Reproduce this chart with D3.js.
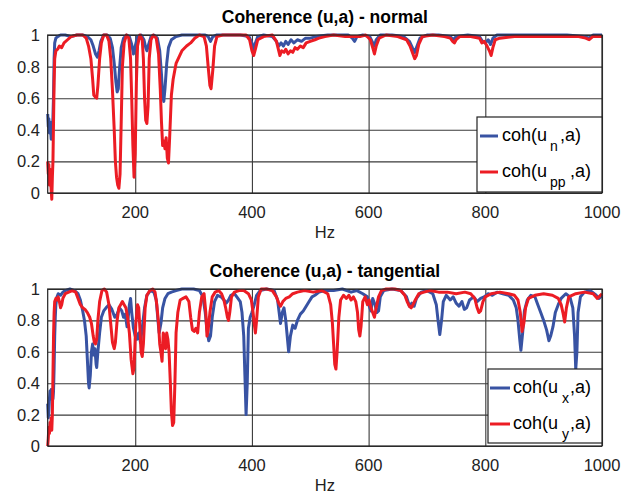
<!DOCTYPE html>
<html>
<head>
<meta charset="utf-8">
<script src="https://cdn.jsdelivr.net/npm/d3@7"></script>
<style>
  body { margin: 0; background: #fff; }
  svg { display: block; font-family: "Liberation Sans", Arial, sans-serif; }
</style>
</head>
<body>
<div id="chart"></div>
<script>
// Data: [Hz, coherence]
const normalUn = [[50,0.5],[51,0.42],[52,0.47],[53,0.38],[54,0.45],[55,0.4],[56,0.34],[57,0.44],[58,0.4],[59,0.48],[60,0.62],[61,0.85],[62,0.95],[64,0.98],[67,0.99],[72,1.0],[80,1.0],[90,0.99],[100,1.0],[110,1.0],[118,0.99],[124,0.97],[128,0.93],[132,0.88],[135,0.86],[138,0.9],[141,0.96],[146,1.0],[152,1.0],[157,0.98],[161,0.92],[164,0.82],[167,0.7],[169,0.64],[171,0.66],[173,0.78],[176,0.92],[180,0.98],[185,1.0],[190,0.99],[194,0.94],[197,0.88],[200,0.93],[204,0.99],[210,1.0],[215,0.97],[218,0.92],[220,0.9],[223,0.94],[227,0.99],[232,1.0],[238,0.98],[242,0.9],[245,0.75],[247,0.62],[249,0.58],[251,0.66],[254,0.82],[257,0.92],[262,0.97],[270,0.99],[280,1.0],[300,1.0],[320,1.0],[325,0.99],[329,0.96],[333,0.99],[340,1.0],[360,1.0],[380,1.0],[395,0.99],[400,0.95],[403,0.9],[406,0.95],[410,0.99],[420,1.0],[435,0.99],[442,0.96],[446,0.93],[450,0.95],[454,0.93],[458,0.96],[462,0.94],[467,0.97],[472,0.95],[478,0.97],[485,0.96],[492,0.98],[500,0.98],[510,0.99],[530,1.0],[550,1.0],[565,1.0],[572,0.98],[576,0.96],[580,0.99],[590,1.0],[602,0.99],[606,0.96],[610,0.93],[613,0.97],[620,1.0],[640,1.0],[660,0.99],[670,0.96],[675,0.92],[679,0.89],[683,0.93],[688,0.98],[700,1.0],[720,1.0],[740,0.99],[745,0.97],[750,0.99],[770,1.0],[790,0.99],[795,0.96],[800,0.95],[805,0.97],[809,0.94],[813,0.98],[820,1.0],[850,1.0],[880,1.0],[910,1.0],[940,1.0],[970,0.99],[978,0.98],[985,1.0],[1000,1.0]];

const normalUpp = [[50,0.2],[51,0.12],[52,0.18],[53,0.05],[54,0.15],[55,0.08],[56,0.02],[57,-0.04],[58,0.1],[59,0.2],[60,0.45],[61,0.7],[62,0.85],[64,0.9],[67,0.91],[70,0.93],[74,0.92],[78,0.95],[84,0.97],[90,0.99],[100,1.0],[110,1.0],[116,0.98],[120,0.93],[124,0.85],[127,0.72],[129,0.62],[131,0.61],[134,0.6],[136,0.68],[139,0.85],[142,0.95],[146,1.0],[151,1.0],[155,0.96],[158,0.85],[161,0.65],[164,0.4],[166,0.2],[168,0.1],[170,0.05],[172,0.03],[174,0.12],[176,0.45],[178,0.8],[181,0.95],[185,1.0],[189,0.98],[192,0.85],[194,0.6],[196,0.3],[198,0.1],[200,0.25],[202,0.7],[204,0.93],[208,1.0],[212,0.97],[214,0.85],[216,0.6],[218,0.46],[220,0.44],[222,0.55],[224,0.85],[227,0.97],[231,1.0],[236,0.98],[240,0.88],[243,0.65],[245,0.45],[247,0.3],[249,0.33],[251,0.28],[253,0.35],[255,0.22],[257,0.19],[259,0.35],[262,0.62],[265,0.72],[270,0.82],[275,0.86],[280,0.9],[288,0.93],[295,0.95],[302,0.98],[310,1.0],[318,0.99],[322,0.93],[325,0.8],[328,0.68],[330,0.66],[333,0.78],[336,0.93],[340,0.99],[350,1.0],[370,1.0],[390,1.0],[396,0.97],[400,0.9],[403,0.87],[406,0.91],[410,0.97],[420,0.99],[435,1.0],[442,0.96],[446,0.9],[448,0.87],[451,0.9],[455,0.89],[458,0.91],[462,0.88],[466,0.9],[470,0.89],[474,0.92],[478,0.91],[483,0.93],[488,0.92],[493,0.95],[500,0.96],[508,0.97],[515,0.98],[525,0.99],[540,1.0],[560,0.99],[575,0.99],[585,0.99],[595,1.0],[603,0.97],[607,0.92],[610,0.88],[613,0.93],[618,0.98],[630,1.0],[650,0.99],[665,0.97],[671,0.93],[676,0.88],[679,0.85],[682,0.87],[686,0.94],[692,0.99],[710,1.0],[730,0.99],[740,0.98],[744,0.96],[747,0.95],[750,0.97],[756,0.99],[775,0.99],[790,0.98],[794,0.95],[798,0.96],[803,0.93],[807,0.9],[810,0.87],[813,0.92],[817,0.97],[825,0.98],[850,0.99],[880,0.99],[910,0.99],[940,0.99],[960,0.99],[972,0.98],[978,0.97],[984,0.99],[1000,0.99]];

const tangUx = [[50,0.27],[51,0.18],[52,0.22],[53,0.3],[54,0.35],[55,0.33],[56,0.36],[57,0.3],[58,0.34],[59,0.3],[60,0.35],[61,0.5],[62,0.7],[63,0.82],[64,0.9],[66,0.95],[68,0.97],[72,0.96],[76,0.98],[80,0.99],[88,1.0],[96,0.99],[102,0.97],[106,0.93],[110,0.86],[113,0.8],[116,0.7],[118,0.55],[120,0.4],[121,0.37],[123,0.45],[125,0.6],[127,0.65],[129,0.58],[131,0.62],[133,0.52],[134,0.5],[136,0.6],[139,0.72],[142,0.82],[146,0.86],[150,0.88],[155,0.9],[160,0.87],[165,0.82],[169,0.84],[173,0.88],[177,0.86],[180,0.82],[183,0.84],[186,0.76],[188,0.82],[190,0.9],[192,0.94],[194,0.85],[197,0.75],[200,0.7],[203,0.68],[206,0.72],[209,0.66],[212,0.75],[216,0.88],[220,0.96],[226,0.99],[232,0.98],[236,0.93],[239,0.8],[241,0.72],[244,0.78],[247,0.88],[251,0.94],[256,0.97],[262,0.98],[270,0.99],[280,1.0],[300,1.0],[310,0.99],[316,0.95],[320,0.85],[323,0.74],[326,0.67],[329,0.7],[332,0.82],[336,0.92],[341,0.96],[347,0.95],[352,0.93],[356,0.91],[360,0.93],[364,0.96],[370,0.97],[376,0.94],[380,0.92],[383,0.85],[386,0.7],[388,0.45],[390,0.2],[392,0.4],[394,0.75],[397,0.82],[400,0.85],[404,0.9],[408,0.96],[414,0.99],[425,1.0],[438,0.99],[444,0.93],[447,0.84],[449,0.78],[452,0.85],[455,0.88],[458,0.8],[461,0.68],[463,0.6],[466,0.7],[470,0.77],[474,0.75],[478,0.8],[483,0.84],[488,0.86],[493,0.89],[498,0.92],[503,0.95],[508,0.96],[515,0.98],[525,0.99],[540,0.99],[555,1.0],[570,0.98],[580,0.99],[590,0.97],[598,0.95],[602,0.88],[604,0.86],[607,0.94],[611,0.9],[614,0.85],[617,0.86],[620,0.95],[626,0.99],[640,1.0],[655,0.99],[665,0.95],[670,0.89],[674,0.91],[678,0.89],[682,0.94],[690,0.98],[700,0.99],[710,0.97],[716,0.9],[719,0.8],[722,0.71],[725,0.8],[728,0.92],[733,0.96],[740,0.93],[745,0.95],[750,0.91],[755,0.89],[760,0.92],[764,0.87],[768,0.88],[773,0.93],[780,0.95],[786,0.92],[792,0.94],[798,0.95],[805,0.97],[812,0.96],[820,0.98],[830,0.97],[840,0.96],[848,0.93],[853,0.88],[856,0.8],[859,0.68],[861,0.61],[864,0.72],[867,0.86],[872,0.93],[878,0.96],[885,0.95],[890,0.9],[895,0.85],[900,0.8],[905,0.74],[909,0.67],[912,0.7],[916,0.76],[920,0.85],[925,0.9],[930,0.94],[938,0.97],[945,0.95],[950,0.88],[953,0.7],[955,0.49],[957,0.6],[959,0.85],[963,0.95],[970,0.98],[980,0.99],[990,0.96],[995,0.94],[1000,0.96]];

const tangUy = [[50,0.0],[51,0.05],[52,0.12],[53,0.08],[54,0.15],[55,0.1],[56,0.18],[57,0.1],[58,0.2],[59,0.45],[60,0.7],[61,0.85],[62,0.92],[64,0.94],[66,0.93],[68,0.95],[70,0.92],[72,0.88],[74,0.9],[76,0.94],[80,0.97],[86,0.98],[92,0.99],[98,0.98],[102,0.94],[106,0.9],[110,0.88],[114,0.87],[118,0.85],[122,0.82],[125,0.78],[128,0.7],[130,0.66],[132,0.65],[134,0.68],[136,0.8],[139,0.92],[143,0.99],[147,1.0],[151,0.98],[155,0.9],[158,0.78],[161,0.66],[164,0.62],[166,0.66],[169,0.8],[172,0.88],[175,0.9],[178,0.92],[181,0.9],[184,0.88],[187,0.82],[190,0.72],[193,0.55],[196,0.46],[198,0.5],[201,0.78],[204,0.9],[206,0.88],[208,0.75],[210,0.6],[212,0.57],[214,0.65],[217,0.88],[220,0.96],[225,0.99],[230,1.0],[234,0.98],[237,0.9],[240,0.78],[242,0.65],[244,0.6],[246,0.54],[248,0.72],[250,0.7],[252,0.62],[254,0.72],[256,0.68],[258,0.6],[260,0.42],[262,0.22],[264,0.13],[266,0.15],[268,0.4],[270,0.72],[273,0.85],[277,0.93],[282,0.94],[287,0.95],[292,0.92],[295,0.82],[298,0.74],[301,0.73],[304,0.75],[307,0.72],[310,0.85],[314,0.95],[318,0.97],[321,0.85],[323,0.7],[325,0.74],[328,0.85],[332,0.95],[337,0.98],[343,0.99],[348,0.97],[352,0.93],[355,0.88],[358,0.82],[360,0.8],[362,0.85],[365,0.95],[370,0.98],[378,0.99],[386,0.99],[394,0.97],[399,0.93],[402,0.85],[404,0.78],[406,0.72],[408,0.8],[411,0.95],[416,1.0],[425,1.0],[435,0.99],[442,0.95],[446,0.91],[449,0.89],[453,0.92],[458,0.94],[464,0.95],[470,0.97],[478,0.98],[490,0.99],[505,0.98],[520,0.99],[530,0.97],[535,0.9],[538,0.78],[540,0.65],[542,0.52],[544,0.49],[546,0.6],[549,0.82],[552,0.93],[557,0.96],[562,0.94],[566,0.96],[570,0.93],[574,0.95],[578,0.92],[581,0.85],[583,0.74],[585,0.7],[587,0.76],[590,0.92],[594,0.95],[598,0.9],[601,0.93],[604,0.88],[607,0.85],[610,0.82],[613,0.88],[617,0.95],[622,0.99],[630,1.0],[645,1.0],[655,0.99],[662,0.96],[666,0.92],[670,0.89],[673,0.88],[676,0.9],[680,0.93],[686,0.97],[695,0.98],[705,0.99],[720,0.98],[735,0.98],[750,0.97],[765,0.98],[775,0.97],[782,0.94],[786,0.88],[789,0.85],[792,0.86],[796,0.92],[800,0.95],[810,0.97],[825,0.98],[840,0.97],[850,0.96],[856,0.93],[860,0.85],[863,0.73],[866,0.78],[869,0.88],[874,0.94],[885,0.96],[900,0.97],[915,0.96],[925,0.94],[930,0.9],[933,0.85],[936,0.79],[939,0.88],[943,0.95],[955,0.97],[970,0.98],[985,0.97],[992,0.94],[1000,0.97]];

const xTicks = [200, 400, 600, 800, 1000];
const yTicks = [0, 0.2, 0.4, 0.6, 0.8, 1];
const yTickLabels = ['0', '0.2', '0.4', '0.6', '0.8', '1'];
const titles = ['Coherence (u,a) - normal', 'Coherence (u,a) - tangential'];
const legendSubs = [['n', 'pp'], ['x', 'y']];

// Constants
const WIDTH = 633;
const HEIGHT = 494;
const BLUE = '#3853a3';
const RED = '#ec1c24';

const panels = [
  { top: 35, bottom: 193, series: [normalUn, normalUpp], title: titles[0], subs: legendSubs[0],
    legend: { x: 477, y: 117, w: 125, h: 75, line: [480, 498], text: 502, sub: 550, rest: 560 } },
  { top: 289, bottom: 446, series: [tangUx, tangUy], title: titles[1], subs: legendSubs[1],
    legend: { x: 488, y: 369, w: 114, h: 74, line: [490, 510], text: 513, sub: 562, rest: 570 } }
];

const x = d3.scaleLinear().domain([50, 1000]).range([47.7, 602]);

const svg = d3.select('#chart')
  .append('svg')
  .attr('width', WIDTH)
  .attr('height', HEIGHT);

panels.forEach(p => {
  const y = d3.scaleLinear().domain([0, 1]).range([p.bottom, p.top]);
  const g = svg.append('g');

  // Grid
  g.append('g')
    .attr('transform', `translate(0,${p.bottom})`)
    .call(d3.axisBottom(x).tickValues(xTicks).tickSize(-(p.bottom - p.top)).tickFormat(''))
    .call(a => a.select('.domain').remove())
    .call(a => a.selectAll('line').attr('stroke', '#3a3a3a').attr('stroke-width', 1.1));
  g.append('g')
    .attr('transform', `translate(${x.range()[0]},0)`)
    .call(d3.axisLeft(y).tickValues(yTicks).tickSize(-(x.range()[1] - x.range()[0])).tickFormat(''))
    .call(a => a.select('.domain').remove())
    .call(a => a.selectAll('line').attr('stroke', '#3a3a3a').attr('stroke-width', 1.1));

  // Tick labels
  g.selectAll('.xlab')
    .data(xTicks)
    .join('text')
    .attr('x', d => x(d))
    .attr('y', p.bottom + 25)
    .attr('text-anchor', 'middle')
    .attr('font-size', 16.5)
    .attr('fill', '#222')
    .text(d => d);
  g.selectAll('.ylab')
    .data(yTicks)
    .join('text')
    .attr('x', 40)
    .attr('y', d => y(d))
    .attr('dy', '0.36em')
    .attr('text-anchor', 'end')
    .attr('font-size', 16.5)
    .attr('fill', '#222')
    .text((d, i) => yTickLabels[i]);

  // Curves
  const line = d3.line().x(d => x(d[0])).y(d => y(d[1]));
  g.selectAll('.curve')
    .data(p.series)
    .join('path')
    .attr('fill', 'none')
    .attr('stroke', (d, i) => i ? RED : BLUE)
    .attr('stroke-width', 3)
    .attr('stroke-linejoin', 'round')
    .attr('d', line);

  // Box
  g.append('rect')
    .attr('x', x.range()[0])
    .attr('y', p.top)
    .attr('width', x.range()[1] - x.range()[0])
    .attr('height', p.bottom - p.top)
    .attr('fill', 'none')
    .attr('stroke', '#222')
    .attr('stroke-width', 1.2);

  // Title and x label
  g.append('text')
    .attr('x', (x.range()[0] + x.range()[1]) / 2)
    .attr('y', p.top - 12)
    .attr('text-anchor', 'middle')
    .attr('font-size', 17.5)
    .attr('font-weight', 'bold')
    .text(p.title);
  g.append('text')
    .attr('x', (x.range()[0] + x.range()[1]) / 2)
    .attr('y', p.bottom + 45)
    .attr('text-anchor', 'middle')
    .attr('font-size', 16.5)
    .attr('fill', '#222')
    .text('Hz');

  // Legend
  const L = p.legend;
  const lg = g.append('g');
  lg.append('rect')
    .attr('x', L.x).attr('y', L.y).attr('width', L.w).attr('height', L.h)
    .attr('fill', '#fff').attr('stroke', '#222').attr('stroke-width', 1.2);
  const rows = [L.y + 19, L.y + 55];
  p.subs.forEach((s, i) => {
    const cy = rows[i];
    lg.append('line')
      .attr('x1', L.line[0]).attr('x2', L.line[1]).attr('y1', cy).attr('y2', cy)
      .attr('stroke', i ? RED : BLUE).attr('stroke-width', 3);
    lg.append('text').attr('x', L.text).attr('y', cy + 5).attr('font-size', 18).text('coh(u');
    lg.append('text').attr('x', L.sub).attr('y', cy + 15).attr('font-size', 14).text(s);
    lg.append('text').attr('x', L.rest + (s.length - 1) * 10).attr('y', cy + 5).attr('font-size', 18).text(',a)');
  });
});
</script>
</body>
</html>
